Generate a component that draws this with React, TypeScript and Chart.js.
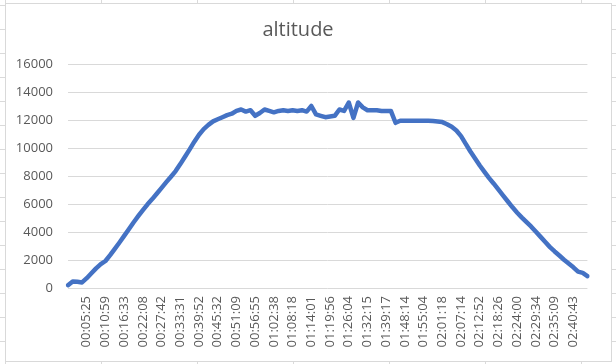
import React, { useEffect, useRef } from "react";
import { Chart, registerables } from "chart.js";

Chart.register(...registerables);

// Tick labels shown on the category axis (every 4th sample)
const timeLabels = [
  "00:05:25", "00:10:59", "00:16:33", "00:22:08", "00:27:42", "00:33:31",
  "00:39:52", "00:45:32", "00:51:09", "00:56:55", "01:02:38", "01:08:18",
  "01:14:01", "01:19:56", "01:26:04", "01:32:15", "01:39:17", "01:48:14",
  "01:55:04", "02:01:18", "02:07:14", "02:12:52", "02:18:26", "02:24:00",
  "02:29:34", "02:35:09", "02:40:43",
];

// Altitude samples
const altitude = [
  200, 470, 440, 400, 700, 1050, 1400, 1700, 1930, 2350,
  2800, 3250, 3720, 4200, 4680, 5130, 5560, 5980, 6350, 6750,
  7150, 7560, 7950, 8350, 8850, 9380, 9900, 10450, 10950, 11350,
  11650, 11900, 12050, 12200, 12350, 12450, 12650, 12750, 12600, 12700,
  12300, 12500, 12750, 12650, 12550, 12650, 12700, 12650, 12700, 12650,
  12700, 12600, 13000, 12400, 12300, 12200, 12250, 12300, 12750, 12650,
  13250, 12150, 13250, 12900, 12700, 12700, 12700, 12650, 12650, 12650,
  11800, 11950, 11950, 11950, 11950, 11950, 11950, 11950, 11930, 11900,
  11850, 11700, 11520, 11250, 10850, 10300, 9750, 9250, 8750, 8300,
  7850, 7450, 7030, 6600, 6180, 5760, 5380, 5030, 4700, 4380,
  4010, 3650, 3280, 2920, 2610, 2320, 2020, 1750, 1480, 1170,
  1080, 850,
];

const yTicks = [0, 2000, 4000, 6000, 8000, 10000, 12000, 14000, 16000];

const SAMPLES_PER_LABEL = 4;

const categories = altitude.map((_, i) =>
  i >= SAMPLES_PER_LABEL && i % SAMPLES_PER_LABEL === 0
    ? timeLabels[i / SAMPLES_PER_LABEL - 1] ?? ""
    : ""
);

const TEXT = "#595959";
const GRID = "#d9d9d9";
const FONT = "'Open Sans', 'Liberation Sans', sans-serif";

export default function App() {
  const ref = useRef<HTMLCanvasElement | null>(null);

  useEffect(() => {
    if (!ref.current) return;
    const chart = new Chart(ref.current, {
      type: "line",
      data: {
        labels: categories,
        datasets: [
          {
            label: "altitude",
            data: altitude,
            borderColor: "#4472C4",
            backgroundColor: "#4472C4",
            borderWidth: 4.5,
            pointRadius: 0,
            tension: 0,
            borderJoinStyle: "round",
            borderCapStyle: "round",
            fill: false,
          },
        ],
      },
      options: {
        animation: false,
        responsive: false,
        layout: { padding: { left: 0, right: 21, top: 0, bottom: 0 } },
        plugins: {
          legend: { display: false },
          tooltip: { enabled: false },
          title: {
            display: true,
            text: "altitude",
            color: TEXT,
            font: { family: FONT, size: 20, weight: "normal" },
            padding: { top: 14, bottom: 22 },
          },
        },
        scales: {
          x: {
            type: "category",
            offset: false,
            grid: { display: false, drawTicks: false },
            border: { display: false },
            ticks: {
              autoSkip: false,
              minRotation: 90,
              maxRotation: 90,
              padding: 8,
              color: TEXT,
              font: { family: FONT, size: 13 },
            },
            afterFit: (scale: any) => {
              scale.height = 73;
            },
          },
          y: {
            min: 0,
            max: 16000,
            afterBuildTicks: (scale: any) => {
              scale.ticks = yTicks.map((v) => ({ value: v }));
            },
            grid: { color: GRID, lineWidth: 1, drawTicks: false },
            border: { display: false },
            ticks: {
              padding: 15,
              color: TEXT,
              font: { family: FONT, size: 13 },
              callback: (v: any) => String(v),
            },
            afterFit: (scale: any) => {
              scale.width = 62;
            },
          },
        },
      },
    });
    return () => chart.destroy();
  }, []);

  return (
    <div
      style={{
        position: "fixed",
        left: 0,
        top: 0,
        width: 616,
        height: 364,
        background: "#ffffff",
        backgroundImage:
          "linear-gradient(to right, #dadada 1px, transparent 1px), linear-gradient(to bottom, #dadada 1px, transparent 1px)",
        backgroundSize: "96px 24px",
        backgroundPosition: "5px 5px",
        overflow: "hidden",
      }}
    >
      <div
        style={{
          position: "absolute",
          left: 5,
          top: 3,
          width: 607,
          height: 359,
          boxSizing: "border-box",
          border: "1px solid #d9d9d9",
          background: "#ffffff",
        }}
      >
        <canvas ref={ref} width={605} height={357} style={{ display: "block" }} />
      </div>
    </div>
  );
}
